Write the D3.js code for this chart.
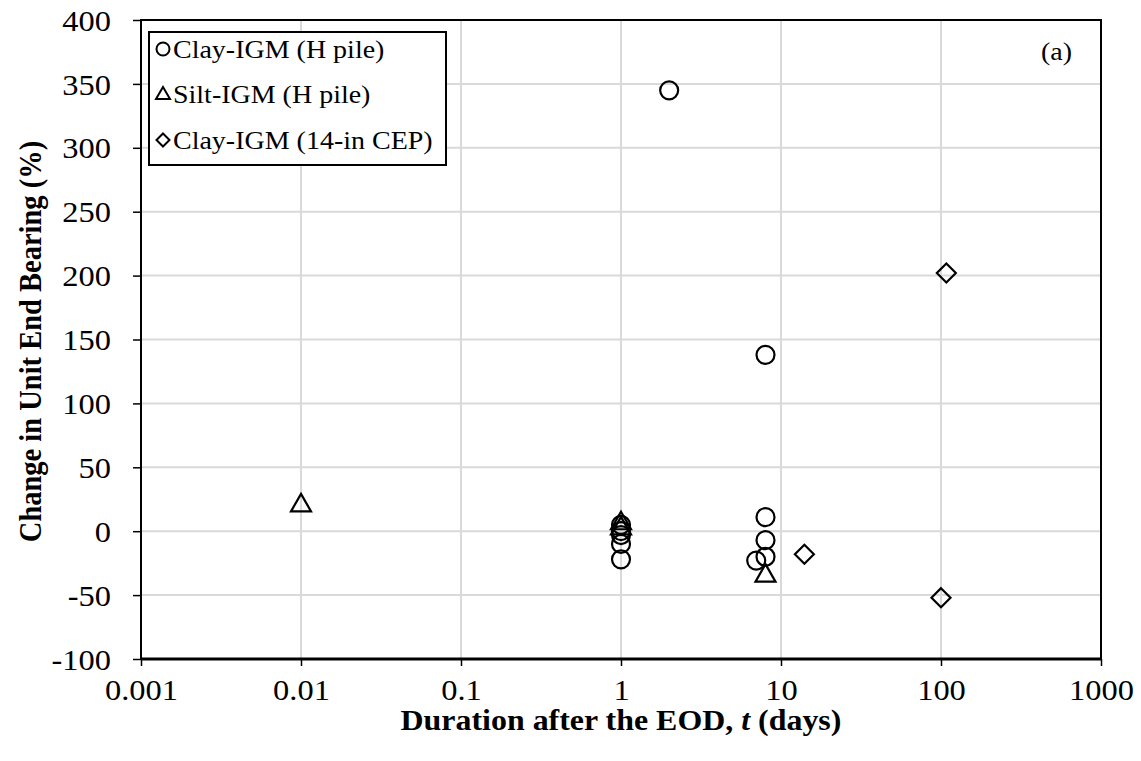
<!DOCTYPE html>
<html><head><meta charset="utf-8">
<script src="https://cdn.jsdelivr.net/npm/d3@7"></script>
<style>body{margin:0;background:#fff}</style>
</head><body>
<svg id="c" width="1141" height="761"></svg>
<script>
const xTicks = [0.001, 0.01, 0.1, 1, 10, 100, 1000];
const xTickLabels = ["0.001", "0.01", "0.1", "1", "10", "100", "1000"];
const yTicks = [-100, -50, 0, 50, 100, 150, 200, 250, 300, 350, 400];

const clayH_t = [2, 8, 1, 1, 1, 1, 1, 8, 8, 8, 7];
const clayH_v = [345, 138, 5, 0, -3, -10, -22, 11, -7, -20, -23];
const siltH_t = [0.01, 1, 1, 8];
const siltH_v = [21, 7, 3, -34];
const clayCEP_t = [14, 100, 108];
const clayCEP_v = [-18, -52, 202];

const legendLabels = ["Clay-IGM (H pile)", "Silt-IGM (H pile)", "Clay-IGM (14-in CEP)"];

const svg = d3.select("#c");
const L = 141, R = 1101, T = 20, B = 659;
const K = 1.12; // horizontal text stretch
const x = d3.scaleLog().domain([0.001, 1000]).range([L, R]);
const y = d3.scaleLinear().domain([-100, 400]).range([B, T]);
const font = "'Liberation Serif','Times New Roman',serif";

// grid
svg.append("g").selectAll("line").data(xTicks.slice(1, -1)).join("line")
  .attr("x1", d => x(d)).attr("x2", d => x(d)).attr("y1", T).attr("y2", B)
  .attr("stroke", "#d9d9d9").attr("stroke-width", 2);
svg.append("g").selectAll("line").data(yTicks.slice(1, -1)).join("line")
  .attr("x1", L).attr("x2", R).attr("y1", d => y(d)).attr("y2", d => y(d))
  .attr("stroke", "#d9d9d9").attr("stroke-width", 2);

// axes
const xAxis = d3.axisBottom(x).tickValues(xTicks).tickFormat((d, i) => xTickLabels[i]).tickSizeOuter(0).tickSize(7).tickPadding(13);
const gx = svg.append("g").attr("transform", `translate(0,${B})`).call(xAxis);
const yAxis = d3.axisLeft(y).tickValues(yTicks).tickFormat(d => String(d)).tickSizeOuter(0).tickSize(8).tickPadding(22);
const gy = svg.append("g").attr("transform", `translate(${L},0)`).call(yAxis);
[gx, gy].forEach(g => {
  g.select(".domain").remove();
  g.selectAll("line").attr("stroke", "#000").attr("stroke-width", 1.5);
  g.selectAll("text").attr("font-family", font).attr("font-size", 29).attr("fill", "#000")
    .each(function () {
      const t = d3.select(this);
      const xx = +t.attr("x") || 0;
      t.attr("x", xx / K).attr("transform", `scale(${K},1)`);
    });
});
gy.selectAll("text").attr("dy", "0.35em");

// frame
svg.append("rect").attr("x", L).attr("y", T).attr("width", R - L).attr("height", B - T)
  .attr("fill", "none").attr("stroke", "#000").attr("stroke-width", 2);
svg.append("line").attr("x1", L).attr("x2", R).attr("y1", B).attr("y2", B).attr("stroke", "#000").attr("stroke-width", 3);

// markers
const tri = "M0,-10.5L10,7L-10,7Z";
const dia = "M0,-9.5L9.5,0L0,9.5L-9.5,0Z";
const g = svg.append("g").attr("fill", "none").attr("stroke", "#000").attr("stroke-width", 2.2);
g.selectAll(".c").data(clayH_t).join("circle")
  .attr("cx", d => x(d)).attr("cy", (d, i) => y(clayH_v[i])).attr("r", 9);
g.selectAll(".t").data(siltH_t).join("path")
  .attr("d", tri).attr("stroke-linejoin", "miter")
  .attr("transform", (d, i) => `translate(${x(d)},${y(siltH_v[i])})`);
g.selectAll(".d").data(clayCEP_t).join("path")
  .attr("d", dia)
  .attr("transform", (d, i) => `translate(${x(d)},${y(clayCEP_v[i])})`);

// legend
const lg = svg.append("g");
lg.append("rect").attr("x", 149).attr("y", 32).attr("width", 297).attr("height", 133)
  .attr("fill", "#fff").attr("stroke", "#000").attr("stroke-width", 2);
const ly = [49, 94, 140];
const ls = lg.append("g").attr("fill", "none").attr("stroke", "#000").attr("stroke-width", 2);
ls.append("circle").attr("cx", 163).attr("cy", ly[0]).attr("r", 6.5);
ls.append("path").attr("d", "M0,-7L7,5L-7,5Z").attr("transform", `translate(163,${ly[1]})`);
ls.append("path").attr("d", "M0,-6.5L6.5,0L0,6.5L-6.5,0Z").attr("transform", `translate(163,${ly[2]})`);
lg.selectAll("text").data(legendLabels).join("text")
  .attr("x", 173 / K).attr("y", (d, i) => ly[i]).attr("dy", "0.35em")
  .attr("transform", `scale(${K},1)`)
  .attr("font-family", font).attr("font-size", 25).text(d => d);

svg.append("text").attr("x", 1072 / K).attr("y", 51).attr("dy", "0.35em").attr("text-anchor", "end")
  .attr("transform", `scale(${K},1)`)
  .attr("font-family", font).attr("font-size", 25).text("(a)");

// titles
svg.append("text").attr("x", (L + R) / 2 / K).attr("y", 730).attr("text-anchor", "middle")
  .attr("transform", `scale(${K},1)`)
  .attr("font-family", font).attr("font-size", 28.5).attr("font-weight", "bold")
  .html("Duration after the EOD, <tspan font-style='italic'>t</tspan> (days)");
svg.append("text").attr("transform", `translate(30,${(T + B) / 2 + 2}) scale(${K},1) rotate(-90)`)
  .attr("text-anchor", "middle").attr("dy", "0.35em")
  .attr("font-family", font).attr("font-size", 28.5).attr("font-weight", "bold")
  .text("Change in Unit End Bearing (%)");
</script>
</body></html>
